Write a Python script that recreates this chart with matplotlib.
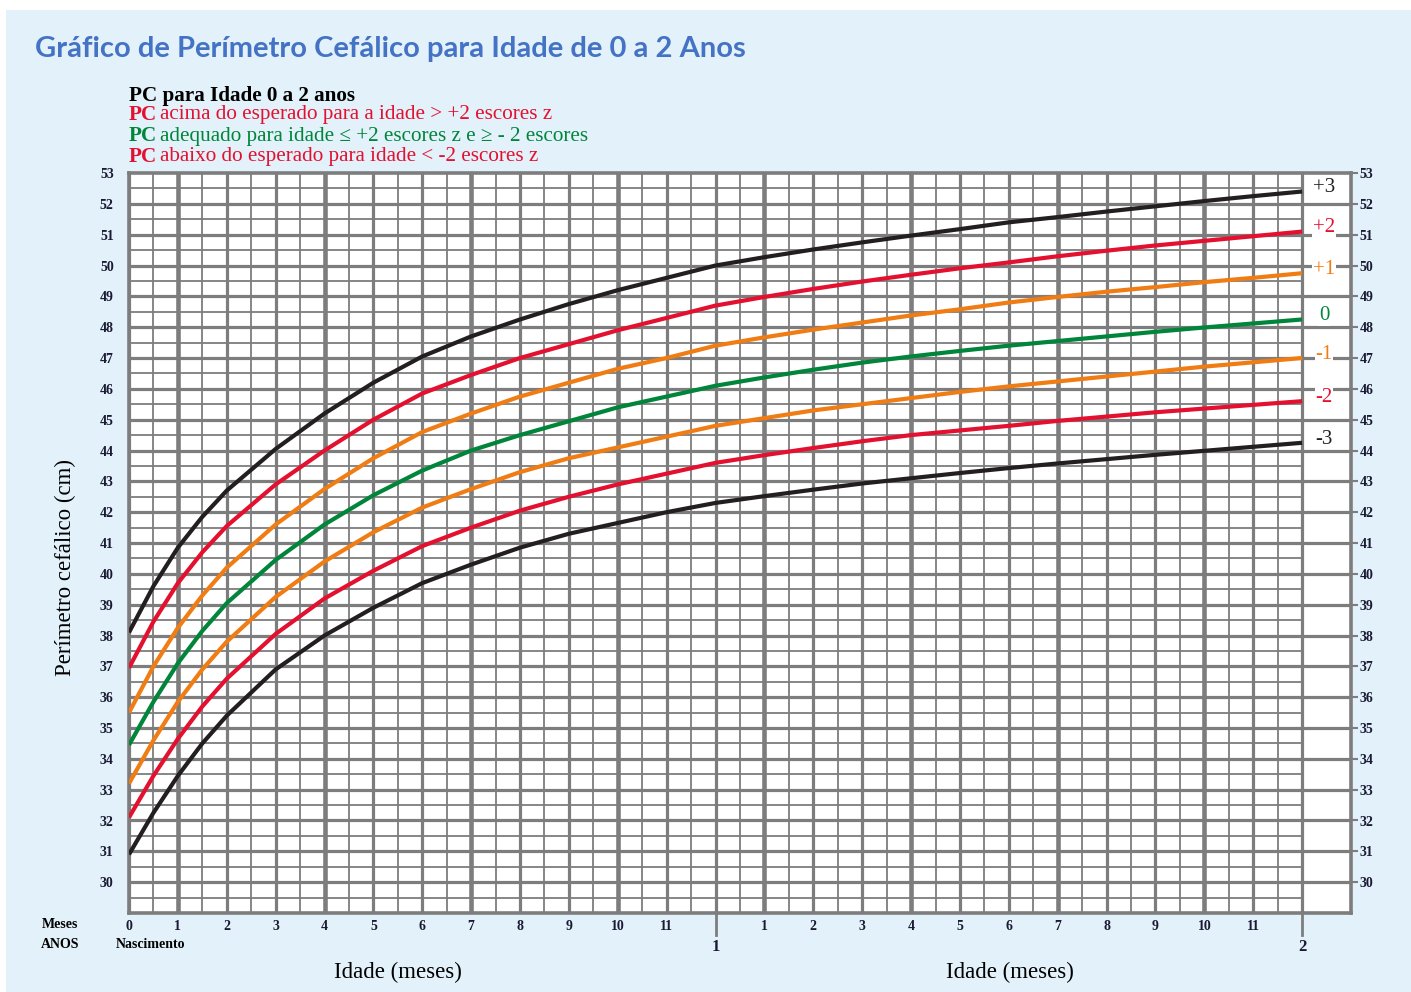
import matplotlib.pyplot as plt
import matplotlib.transforms as mtransforms
from matplotlib.patches import Rectangle

# dados (perimetro cefalico, cm)
meses = [0, 0.5, 1, 1.5, 2, 3, 4, 5, 6, 7, 8, 9, 10, 11, 12,
         13, 14, 15, 16, 17, 18, 19, 20, 21, 22, 23, 24]
z_pos3 = [38.1, 39.6, 40.85, 41.85, 42.7, 44.05, 45.2, 46.2, 47.05, 47.7, 48.25, 48.75, 49.2, 49.6, 50.0,
          50.27, 50.52, 50.75, 50.97, 51.18, 51.4, 51.57, 51.75, 51.92, 52.09, 52.25, 52.4]
z_pos2 = [36.95, 38.45, 39.7, 40.7, 41.55, 42.9, 44.0, 45.0, 45.85, 46.45, 47.0, 47.45, 47.9, 48.3, 48.7,
          48.98, 49.24, 49.48, 49.7, 49.91, 50.1, 50.3, 50.48, 50.65, 50.8, 50.95, 51.1]
z_pos1 = [35.5, 37.0, 38.25, 39.3, 40.2, 41.6, 42.75, 43.75, 44.6, 45.2, 45.75, 46.2, 46.65, 47.0, 47.4,
          47.67, 47.92, 48.15, 48.38, 48.58, 48.8, 48.98, 49.15, 49.3, 49.46, 49.6, 49.75]
z_0 = [34.45, 35.85, 37.1, 38.15, 39.05, 40.45, 41.6, 42.55, 43.35, 44.0, 44.5, 44.95, 45.4, 45.75, 46.1,
       46.37, 46.62, 46.85, 47.05, 47.23, 47.4, 47.55, 47.7, 47.85, 47.99, 48.12, 48.25]
z_neg1 = [33.2, 34.6, 35.85, 36.9, 37.8, 39.25, 40.4, 41.35, 42.15, 42.75, 43.3, 43.75, 44.1, 44.45, 44.8,
          45.05, 45.3, 45.5, 45.7, 45.9, 46.08, 46.24, 46.4, 46.56, 46.72, 46.86, 47.0]
z_neg2 = [32.1, 33.45, 34.65, 35.7, 36.6, 38.05, 39.2, 40.1, 40.9, 41.5, 42.05, 42.5, 42.9, 43.25, 43.6,
          43.85, 44.08, 44.3, 44.5, 44.65, 44.8, 44.96, 45.1, 45.24, 45.36, 45.48, 45.6]
z_neg3 = [30.9, 32.25, 33.45, 34.5, 35.4, 36.9, 38.0, 38.9, 39.7, 40.3, 40.85, 41.3, 41.65, 42.0, 42.3,
          42.52, 42.73, 42.93, 43.1, 43.27, 43.43, 43.58, 43.72, 43.86, 43.99, 44.12, 44.25]

curvas = [z_pos3, z_pos2, z_pos1, z_0, z_neg1, z_neg2, z_neg3]
rotulos = ['+3', '+2', '+1', '0', '-1', '-2', '-3']
PRETO, VERMELHO, LARANJA, VERDE = '#231F20', '#E3112F', '#F07C14', '#00853A'
cores = [PRETO, VERMELHO, LARANJA, VERDE, LARANJA, VERMELHO, PRETO]

mes_labels = [str(m) for m in range(12)] + [''] + [str(m) for m in range(1, 12)]
y_ticks = list(range(30, 54))

W, H = 1411, 992
fig = plt.figure(figsize=(W / 100, H / 100), dpi=100, facecolor='white')
fig.add_artist(Rectangle((6 / W, 0), 1, 1 - 10 / H, transform=fig.transFigure,
                         facecolor='#E2F1FA', edgecolor='none', zorder=-10))

x0, x1, ytop, ybot = 129, 1351, 173, 913
ax = fig.add_axes([x0 / W, 1 - ybot / H, (x1 - x0) / W, (ybot - ytop) / H])
ax.set_facecolor('white')
ax.set_xlim(0, 25)
ax.set_ylim(29, 53)

GRID = '#7d7d7d'
# grade
for v in range(59, 106):
    y = v / 2
    if v % 2:
        ax.hlines(y, 0, 24, color=GRID, lw=1.3, zorder=1)
    else:
        ax.hlines(y, 0, 25, color=GRID, lw=2.3, zorder=1)
for v in range(0, 49):
    x = v / 2
    if v % 2:
        lw = 1.3
    elif (v // 2) % 3 == 1:
        lw = 3.3
    else:
        lw = 2.3
    ax.vlines(x, 29, 53, color=GRID, lw=lw, zorder=1)
for s in ax.spines.values():
    s.set_color(GRID)
    s.set_linewidth(2.6)

# curvas
for vals, c, r in zip(curvas, cores, rotulos):
    ax.plot(meses, vals, color=c, lw=3.0, solid_capstyle='butt', solid_joinstyle='round', zorder=3)
    ax.text(24.45, vals[-1] + 0.12, r, color=c, fontsize=15, family='Liberation Serif',
            ha='center', va='center', zorder=4,
            bbox=dict(facecolor='white', edgecolor='none', pad=0.5))

tick_font = dict(family='Liberation Serif', weight='bold', size=10)
ax.set_yticks(y_ticks)
ax.set_yticklabels([str(v) for v in y_ticks], color='#1a1a33', **tick_font)
ax.tick_params(axis='y', length=0, pad=11)
ax.set_xticks(range(24))
ax.set_xticklabels(mes_labels, color='#1a1a33', **tick_font)
ax.tick_params(axis='x', length=0, pad=5)

ax2 = ax.twinx()
ax2.set_ylim(29, 53)
ax2.set_yticks(y_ticks)
ax2.set_yticklabels([str(v) for v in y_ticks], color='#1a1a33', **tick_font)
ax2.tick_params(axis='y', length=5, width=1.5, color=GRID, pad=1)
for s in ax2.spines.values():
    s.set_visible(False)

# marcas dos anos
trans = mtransforms.blended_transform_factory(ax.transData, ax.transAxes)
for xa, lab in [(12, '1'), (24, '2')]:
    ax.plot([xa, xa], [0, -22 / 740], color=GRID, lw=2, transform=trans, clip_on=False)
    ax.text(xa, -34 / 740, lab, transform=trans, ha='center', va='center',
            family='Liberation Serif', weight='bold', size=12, color='#1a1a33')

def ftext(x, y, s, **kw):
    return fig.text(x / W, 1 - y / H, s, **kw)

ftext(60, 925, 'Meses', ha='center', va='center', **tick_font)
ftext(60, 945, 'ANOS', ha='center', va='center', **tick_font)
ftext(151, 945, 'Nascimento', ha='center', va='center', **tick_font)
ftext(398, 972, 'Idade (meses)', ha='center', va='center', family='Liberation Serif', size=16.5)
ftext(1010, 972, 'Idade (meses)', ha='center', va='center', family='Liberation Serif', size=16.5)
ftext(65, 567, 'Perímetro cefálico (cm)', ha='center', va='center', rotation=90,
      family='Liberation Serif', size=16.5)

ftext(35, 49, 'Gráfico de Perímetro Cefálico para Idade de 0 a 2 Anos', ha='left',
      va='center', family='Lato', weight='bold', size=21, color='#4472C4')

# legenda
leg = dict(family='Liberation Serif', size=15.2, va='center')
ftext(129, 96, 'PC para Idade 0 a 2 anos', ha='left', weight='bold', color='black', **leg)
linhas = [(115, VERMELHO, 'acima do esperado para a idade > +2 escores z'),
          (136, VERDE, 'adequado para idade \u2264 +2 escores z e \u2265 - 2 escores'),
          (157, VERMELHO, 'abaixo do esperado para idade < -2 escores z')]
for y, c, s in linhas:
    t = ftext(129, y, 'PC', ha='left', weight='bold', color=c, **leg)
    fig.add_artist(plt.Annotation(s, xy=(1, 0.5), xycoords=t, xytext=(2, 0),
                                  textcoords='offset points', ha='left', color=c, **leg))

fig.savefig('out.png', dpi=100)
